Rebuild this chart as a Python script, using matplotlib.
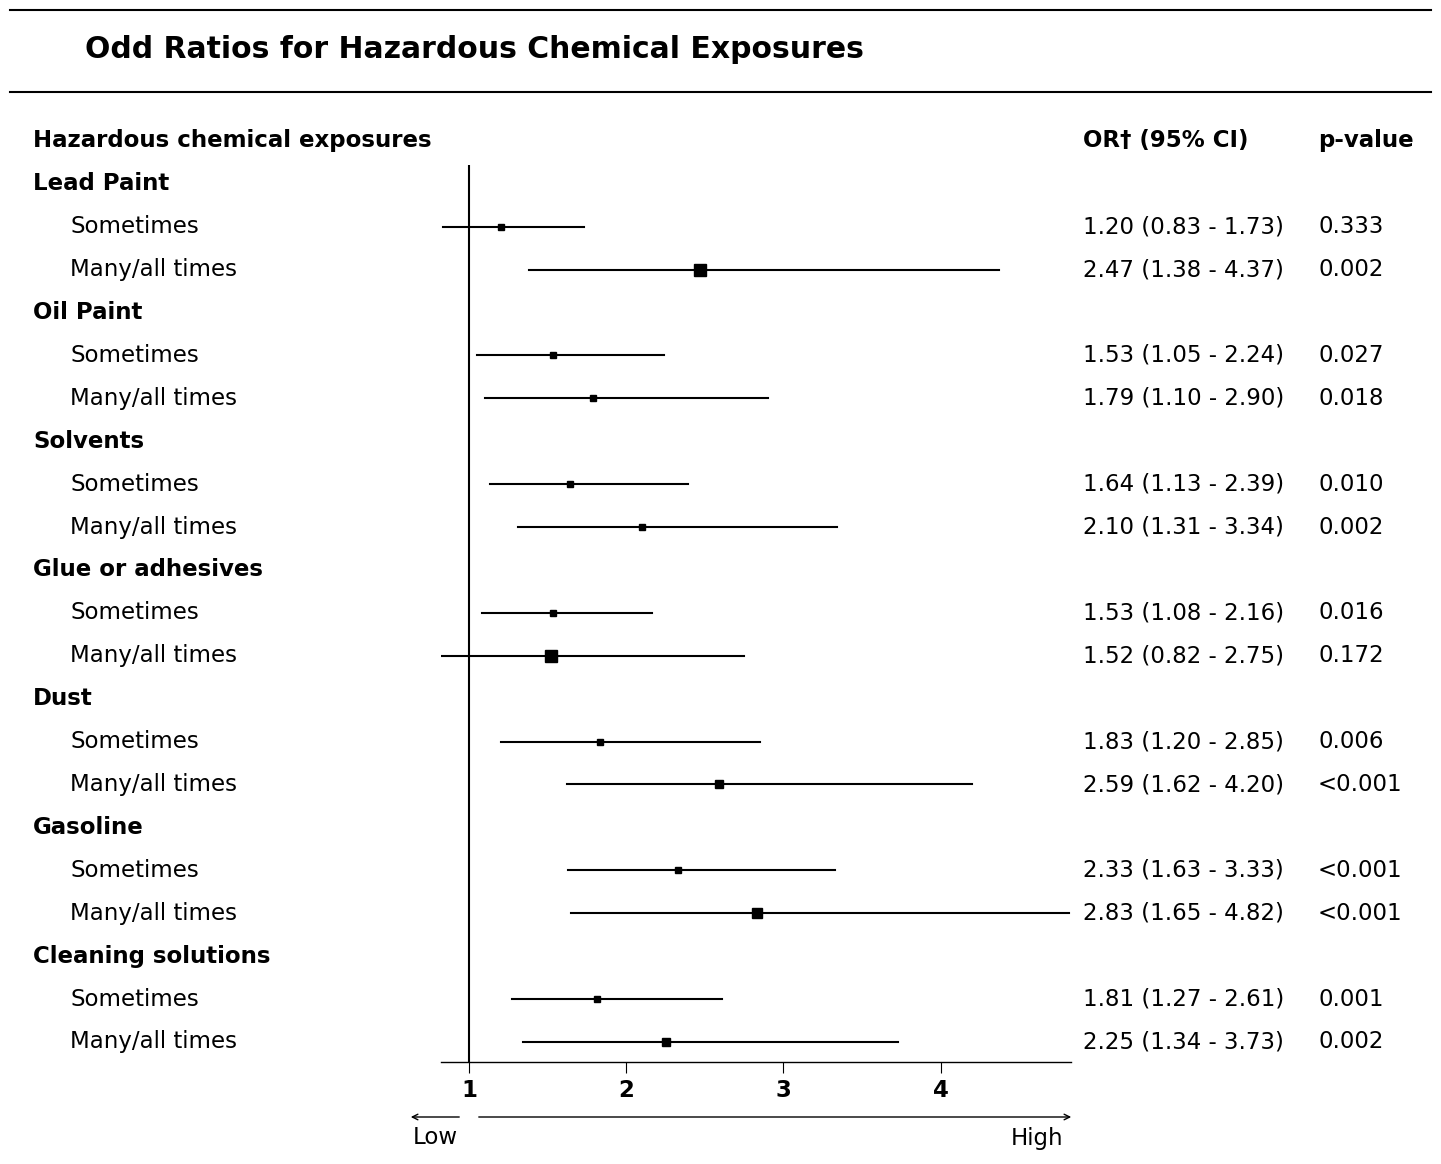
import matplotlib
matplotlib.use("Agg")
import matplotlib.pyplot as plt
from matplotlib.lines import Line2D

groups = ["Lead Paint", "Oil Paint", "Solvents", "Glue or adhesives", "Dust", "Gasoline", "Cleaning solutions"]
levels = ["Sometimes", "Many/all times"]
or_vals = [1.20, 2.47, 1.53, 1.79, 1.64, 2.10, 1.53, 1.52, 1.83, 2.59, 2.33, 2.83, 1.81, 2.25]
lo_vals = [0.83, 1.38, 1.05, 1.10, 1.13, 1.31, 1.08, 0.82, 1.20, 1.62, 1.63, 1.65, 1.27, 1.34]
hi_vals = [1.73, 4.37, 2.24, 2.90, 2.39, 3.34, 2.16, 2.75, 2.85, 4.20, 3.33, 4.82, 2.61, 3.73]
p_vals = ["0.333", "0.002", "0.027", "0.018", "0.010", "0.002", "0.016", "0.172",
          "0.006", "<0.001", "<0.001", "<0.001", "0.001", "0.002"]
marker_sz = [4, 8, 4, 5, 4, 5, 4, 8, 5, 6, 4, 7, 4, 6]
x_ticks = [1, 2, 3, 4]

W, H = 1441, 1164
fig = plt.figure(figsize=(W/100, H/100), dpi=100)
def fx(px): return px / W
def fy(py): return 1 - py / H

y0, dy = 141, 42.9
top, bot = 165, 1062
ax = fig.add_axes([fx(441), fy(bot), fx(1071) - fx(441), (bot - top) / H])
ax.set_xlim(0.82, 4.83)
ax.set_ylim((bot - y0) / dy, (top - y0) / dy)
for s in ["top", "left", "right"]:
    ax.spines[s].set_visible(False)
ax.spines["bottom"].set_linewidth(1)
ax.set_yticks([])
ax.set_xticks(x_ticks)
ax.set_xticklabels([str(t) for t in x_ticks], fontsize=16.5, fontweight="bold")
ax.tick_params(axis="x", length=8, pad=4)
ax.axvline(1, color="black", lw=1.5)

fs = 16.5
fig.text(fx(85), fy(50), "Odd Ratios for Hazardous Chemical Exposures", fontsize=21.5,
         fontweight="bold", va="center")
for yy in [10, 92]:
    fig.add_artist(Line2D([fx(10), fx(1431)], [fy(yy), fy(yy)], color="black", lw=1.5))
fig.text(fx(33), fy(y0), "Hazardous chemical exposures", fontsize=fs, fontweight="bold", va="center")
fig.text(fx(1083), fy(y0), "OR† (95% CI)", fontsize=fs, fontweight="bold", va="center")
fig.text(fx(1318), fy(y0), "p-value", fontsize=fs, fontweight="bold", va="center")

row = 1
k = 0
for g in groups:
    fig.text(fx(33), fy(y0 + row * dy), g, fontsize=fs, fontweight="bold", va="center")
    row += 1
    for lv in levels:
        ypx = y0 + row * dy
        fig.text(fx(70), fy(ypx), lv, fontsize=fs, va="center")
        ax.plot([lo_vals[k], hi_vals[k]], [row, row], color="black", lw=1.5, clip_on=True)
        ax.plot(or_vals[k], row, "s", color="black", ms=marker_sz[k])
        fig.text(fx(1083), fy(ypx), f"{or_vals[k]:.2f} ({lo_vals[k]:.2f} - {hi_vals[k]:.2f})",
                 fontsize=fs, va="center")
        fig.text(fx(1318), fy(ypx), p_vals[k], fontsize=fs, va="center")
        row += 1
        k += 1

ay = fy(1117)
fig.add_artist(matplotlib.patches.FancyArrowPatch((fx(462), ay), (fx(408), ay),
               transform=fig.transFigure, arrowstyle="->", mutation_scale=10, lw=1))
fig.add_artist(matplotlib.patches.FancyArrowPatch((fx(476), ay), (fx(1074), ay),
               transform=fig.transFigure, arrowstyle="->", mutation_scale=10, lw=1))
fig.text(fx(413), fy(1138), "Low", fontsize=fs, va="center")
fig.text(fx(1063), fy(1138), "High", fontsize=fs, va="center", ha="right")

fig.savefig("out.png", dpi=100, facecolor="white")
